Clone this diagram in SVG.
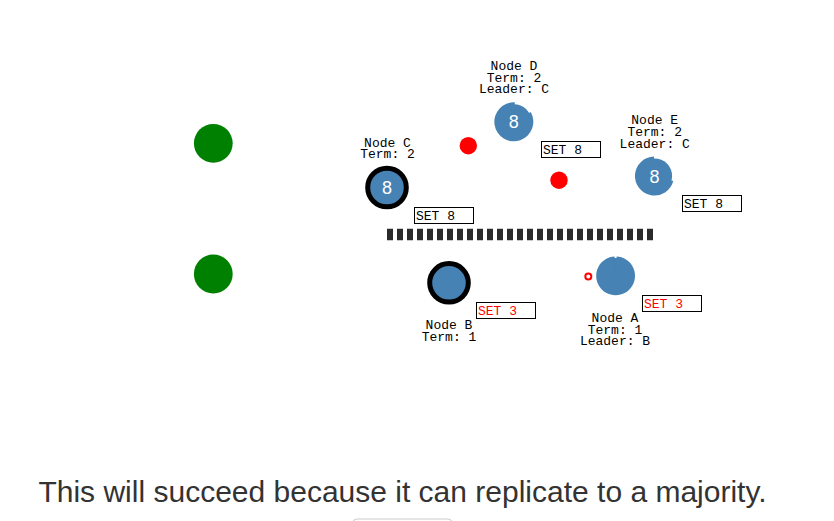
<svg xmlns="http://www.w3.org/2000/svg" width="834" height="521" viewBox="0 0 834 521">
<style>
.lbl{font-family:"Liberation Mono","Courier New",monospace;font-size:13px;fill:#000;text-anchor:middle}
.set{font-family:"Liberation Mono","Courier New",monospace;font-size:13px}
.box{fill:#fff;stroke:#000;stroke-width:1}
.node{fill:#4682b4}
.ldr{fill:#4682b4;stroke:#000;stroke-width:5}
.num{font-family:"Liberation Sans",Arial,sans-serif;font-size:18px;fill:#fff;text-anchor:middle}
.client{fill:#008000}
.msg{fill:#ff0000}
.cap{font-family:"Liberation Sans",Arial,sans-serif;font-size:30px;fill:#333;text-anchor:middle}
</style>
<rect width="834" height="521" fill="#fff"/>
<g id="clients">
<circle class="client" cx="213.3" cy="143.3" r="19.4"/>
<circle class="client" cx="213.3" cy="274" r="19.4"/>
</g>
<g id="connectors">
<line x1="387" y1="234.5" x2="653" y2="234.5" stroke="#2b2b2b" stroke-width="11.6" stroke-dasharray="6 4"/>
<circle class="msg" cx="468.3" cy="145.7" r="8.7"/>
<circle class="msg" cx="559" cy="180.2" r="8.7"/>
<circle cx="588.3" cy="276.5" r="3" fill="#fff" stroke="#ff0000" stroke-width="2"/>
</g>
<g id="node-c">
<text class="lbl" x="387.5" y="146.7">Node C</text>
<text class="lbl" x="387.5" y="158.3">Term: 2</text>
<circle class="ldr" cx="387" cy="187.5" r="19.3"/>
<text class="num" x="387" y="194">8</text>
<rect class="box" x="414.5" y="207.5" width="59" height="16"/>
<text class="set" x="416" y="220">SET 8</text>
</g>
<g id="node-d">
<text class="lbl" x="514" y="70">Node D</text>
<text class="lbl" x="514" y="81.7">Term: 2</text>
<text class="lbl" x="514" y="93.4">Leader: C</text>
<circle class="node" cx="513.8" cy="121.8" r="17.6"/>
<path class="node" d="M513.8 121.8 L530.7 112 A19.5 19.5 0 1 1 514.8 102.3 Z"/>
<text class="num" x="513.8" y="128.3">8</text>
<rect class="box" x="541.5" y="141.5" width="59" height="16"/>
<text class="set" x="543" y="154">SET 8</text>
</g>
<g id="node-e">
<text class="lbl" x="654.7" y="124.3">Node E</text>
<text class="lbl" x="654.7" y="135.9">Term: 2</text>
<text class="lbl" x="654.7" y="147.6">Leader: C</text>
<circle class="node" cx="654.5" cy="176" r="17.6"/>
<path class="node" d="M654.5 176 L673.3 181 A19.5 19.5 0 1 1 654 156.5 Z"/>
<text class="num" x="654.5" y="182.5">8</text>
<rect class="box" x="682.5" y="195.5" width="59" height="16"/>
<text class="set" x="684" y="208">SET 8</text>
</g>
<g id="node-b">
<circle class="ldr" cx="449" cy="282.8" r="19.3"/>
<rect class="box" x="476.5" y="302.5" width="59" height="16"/>
<text class="set" x="478" y="315" fill="#ff0000">SET 3</text>
<text class="lbl" x="449" y="329">Node B</text>
<text class="lbl" x="449" y="340.5">Term: 1</text>
</g>
<g id="node-a">
<circle class="node" cx="615" cy="275.8" r="17.8"/>
<path class="node" d="M615 275.8 L616.6 256.4 A19.4 19.4 0 1 1 614.6 256.4 Z"/>
<rect class="box" x="642.5" y="295.5" width="59" height="16"/>
<text class="set" x="644" y="308" fill="#ff0000">SET 3</text>
<text class="lbl" x="615" y="322.3">Node A</text>
<text class="lbl" x="615" y="333.8">Term: 1</text>
<text class="lbl" x="615" y="345.4">Leader: B</text>
</g>
<g id="caption">
<text class="cap" x="402.5" y="501.5">This will succeed because it can replicate to a majority.</text>
<rect x="353" y="519" width="99" height="30" rx="4" fill="#fff" stroke="#ccc" stroke-width="1"/>
</g>
</svg>
